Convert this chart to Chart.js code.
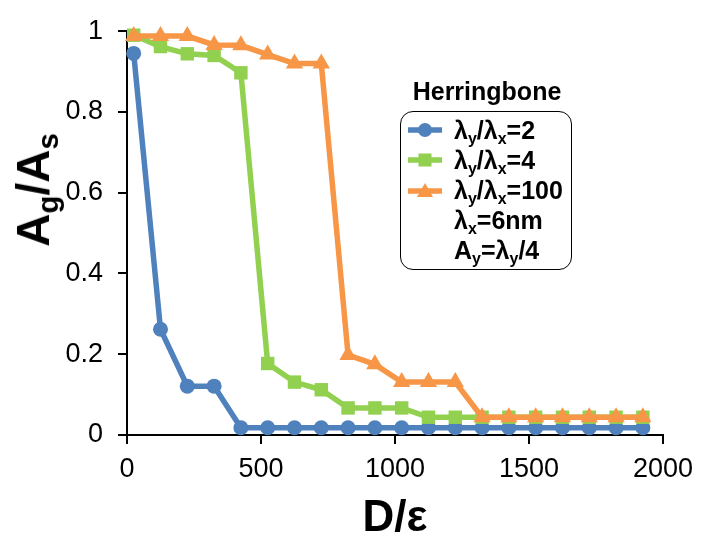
<!DOCTYPE html>
<html lang="en">
<head>
<meta charset="UTF-8">
<title>Herringbone</title>
<script src="https://cdn.jsdelivr.net/npm/chart.js"></script>
<style>
  body { margin: 0; background: #fff; }
  #wrap { position: relative; width: 702px; height: 554px; font-family: "Liberation Sans", Arial, sans-serif; }
  #myChart { position: absolute; left: 0; top: 0; }
  sub { font-size: 0.64em; vertical-align: -0.32em; line-height: 0; }
  #ytitle {
    position: absolute; left: 33px; top: 190px; white-space: nowrap;
    font-weight: bold; font-size: 46px; line-height: 1;
    transform: translate(-50%, -50%) rotate(-90deg);
  }
  #xtitle {
    position: absolute; left: 395px; top: 516px; white-space: nowrap;
    font-weight: bold; font-size: 44px; line-height: 1;
    transform: translate(-50%, -50%);
  }
  #ltitle {
    position: absolute; left: 487px; top: 91px; white-space: nowrap;
    font-weight: bold; font-size: 25px; line-height: 1;
    transform: translate(-50%, -50%);
  }
  #legend {
    position: absolute; left: 400px; top: 111px; width: 172px; height: 159px;
    border: 1.5px solid #000; border-radius: 13px; padding-top: 3px; box-sizing: border-box;
    font-weight: bold; font-size: 25px;
  }
  .row { height: 30px; line-height: 30px; display: flex; align-items: center; white-space: nowrap; }
  .row svg { margin-left: 7px; margin-right: 12px; flex: none; }
  .row .pad { width: 53px; flex: none; }
</style>
</head>
<body>
<div id="wrap">
  <canvas id="myChart" width="702" height="554"></canvas>
  <div id="ytitle">A<sub>g</sub>/A<sub>s</sub></div>
  <div id="xtitle">D/ε</div>
  <div id="ltitle">Herringbone</div>
  <div id="legend">
    <div class="row">
      <svg width="34" height="16"><line x1="0" y1="8" x2="34" y2="8" stroke="#4F81BD" stroke-width="5.5"/><circle cx="17" cy="8" r="7" fill="#4F81BD"/></svg>
      <span>λ<sub>y</sub>/λ<sub>x</sub>=2</span>
    </div>
    <div class="row">
      <svg width="34" height="16"><line x1="0" y1="8" x2="34" y2="8" stroke="#92D050" stroke-width="5.5"/><rect x="10.5" y="1.5" width="13" height="13" fill="#92D050"/></svg>
      <span>λ<sub>y</sub>/λ<sub>x</sub>=4</span>
    </div>
    <div class="row">
      <svg width="34" height="16"><line x1="0" y1="9" x2="34" y2="9" stroke="#F79646" stroke-width="5.5"/><polygon points="17,1 25,15 9,15" fill="#F79646"/></svg>
      <span>λ<sub>y</sub>/λ<sub>x</sub>=100</span>
    </div>
    <div class="row"><span class="pad"></span><span>λ<sub>x</sub>=6nm</span></div>
    <div class="row"><span class="pad"></span><span>A<sub>y</sub>=λ<sub>y</sub>/4</span></div>
  </div>
</div>

<script>
  // D/epsilon positions
  const xValues = [25, 125, 225, 325, 425, 525, 625, 725, 825, 925,
                   1025, 1125, 1225, 1325, 1425, 1525, 1625, 1725, 1825, 1925];

  // Ag/As, lambda_y/lambda_x = 2
  const ratio2 = [0.945, 0.262, 0.121, 0.121, 0.018, 0.018, 0.018, 0.018, 0.018, 0.018,
                  0.018, 0.018, 0.018, 0.018, 0.018, 0.018, 0.018, 0.018, 0.018, 0.018];
  // lambda_y/lambda_x = 4
  const ratio4 = [0.99, 0.962, 0.944, 0.94, 0.897, 0.177, 0.131, 0.112, 0.067, 0.067,
                  0.067, 0.044, 0.044, 0.044, 0.044, 0.044, 0.044, 0.044, 0.044, 0.044];
  // lambda_y/lambda_x = 100
  const ratio100 = [0.988, 0.988, 0.988, 0.966, 0.965, 0.942, 0.92, 0.92, 0.198, 0.175,
                    0.131, 0.131, 0.131, 0.044, 0.044, 0.044, 0.044, 0.044, 0.044, 0.044];

  const xTicks = [0, 500, 1000, 1500, 2000];
  const yTicks = [0, 0.2, 0.4, 0.6, 0.8, 1];

  function pts(ys) {
    return xValues.map((x, i) => ({ x: x, y: ys[i] }));
  }

  const ctx = document.getElementById('myChart');
  new Chart(ctx, {
    type: 'line',
    data: {
      datasets: [
        { label: 'ly/lx=2', data: pts(ratio2), borderColor: '#4F81BD', backgroundColor: '#4F81BD',
          pointStyle: 'circle', pointRadius: 7.5, order: 3 },
        { label: 'ly/lx=4', data: pts(ratio4), borderColor: '#92D050', backgroundColor: '#92D050',
          pointStyle: 'rect', pointRadius: 9.5, order: 2 },
        { label: 'ly/lx=100', data: pts(ratio100), borderColor: '#F79646', backgroundColor: '#F79646',
          pointStyle: 'triangle', pointRadius: 10, order: 1 }
      ].map(d => Object.assign(d, { borderWidth: 5.5, pointBorderWidth: 0, clip: false, tension: 0 }))
    },
    options: {
      responsive: false,
      animation: false,
      layout: { padding: { top: 15, right: 34, left: 0, bottom: 0 } },
      plugins: { legend: { display: false }, tooltip: { enabled: false } },
      scales: {
        x: {
          type: 'linear', min: 0, max: 2000,
          afterBuildTicks: s => { s.ticks = xTicks.map(v => ({ value: v })); },
          afterFit: s => { s.height = 119; },
          ticks: { color: '#000', font: { family: 'Liberation Sans', size: 27 }, padding: 9,
                   maxRotation: 0, callback: v => String(v) },
          grid: { drawOnChartArea: false, tickLength: 9, color: '#000', lineWidth: 2 },
          border: { color: '#000', width: 2 }
        },
        y: {
          min: 0, max: 1,
          afterBuildTicks: s => { s.ticks = yTicks.map(v => ({ value: v })); },
          afterFit: s => { s.width = 127; },
          ticks: { color: '#000', font: { family: 'Liberation Sans', size: 27 }, padding: 15,
                   callback: v => String(v) },
          grid: { drawOnChartArea: false, tickLength: 9, color: '#000', lineWidth: 2 },
          border: { color: '#000', width: 2 }
        }
      }
    }
  });
</script>
</body>
</html>
